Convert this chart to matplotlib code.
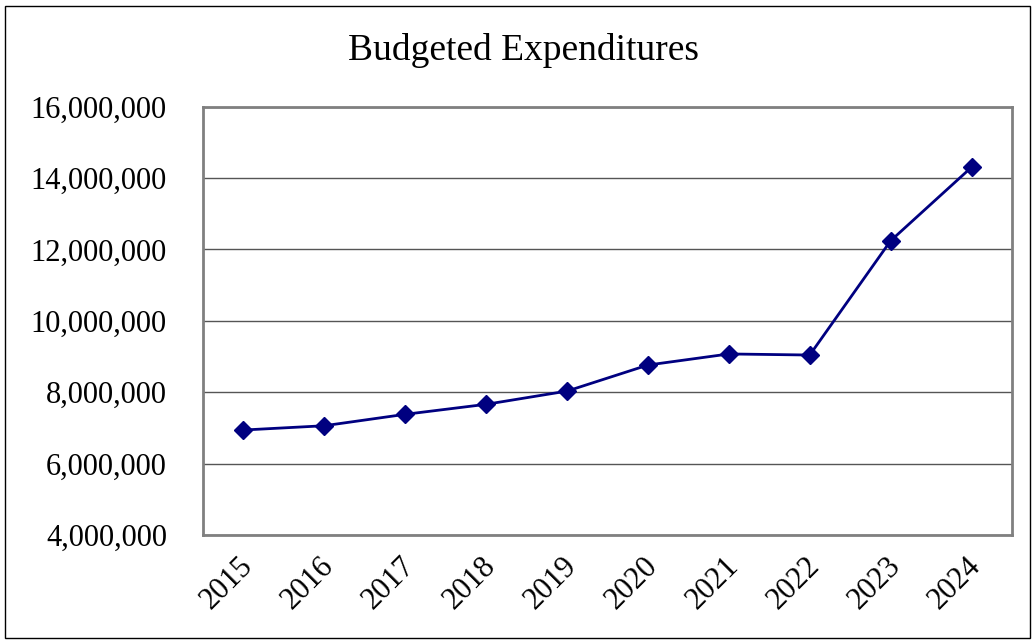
import numpy as np
import matplotlib
matplotlib.use("Agg")
from matplotlib import pyplot as plt
import matplotlib.transforms as mtransforms
from matplotlib.ticker import FuncFormatter
from matplotlib.patches import Rectangle

years = ["2015", "2016", "2017", "2018", "2019", "2020", "2021", "2022", "2023", "2024"]
budget = [6940000, 7060000, 7380000, 7660000, 8030000, 8760000, 9070000, 9040000, 12240000, 14300000]
yticks = [4000000, 6000000, 8000000, 10000000, 12000000, 14000000, 16000000]

plt.rcParams['font.family'] = ['Liberation Serif', 'DejaVu Serif']

fig = plt.figure(figsize=(10.36, 6.42), dpi=100)
ax = fig.add_axes([203/1036, 1-535/642, (1012-203)/1036, (535-106.5)/642])

x = np.arange(len(years))
ax.plot(x, budget, color='#000080', linewidth=2, marker='D', markersize=9, zorder=3)

ax.set_xlim(-0.5, len(years)-0.5)
ax.set_ylim(4000000, 16000000)
ax.set_yticks(yticks)
ax.yaxis.set_major_formatter(FuncFormatter(lambda v, p: f"{int(v):,}"))
ax.set_xticks(x)
ax.set_xticklabels(years, rotation=45, ha='right', va='top', rotation_mode='anchor')
ax.tick_params(axis='both', length=0, labelsize=22)
ax.tick_params(axis='y', pad=26)
ax.tick_params(axis='x', pad=12)
ax.grid(axis='y', color='#555555', linewidth=1)
ax.set_axisbelow(True)
for s in ax.spines.values():
    s.set_color('#808080')
    s.set_linewidth(2)

# nudge year labels slightly left
offset = mtransforms.ScaledTranslation(-5/100, 0, fig.dpi_scale_trans)
for lbl in ax.get_xticklabels():
    lbl.set_transform(lbl.get_transform() + offset)

fig.text(524/1036, 1-50/642, "Budgeted Expenditures", ha='center', va='center', fontsize=27)
fig.patches.append(Rectangle((5/1036, 4/642), 1025/1036, 632/642, transform=fig.transFigure,
                             fill=False, edgecolor='black', linewidth=1))

fig.savefig("out.png", dpi=100)
